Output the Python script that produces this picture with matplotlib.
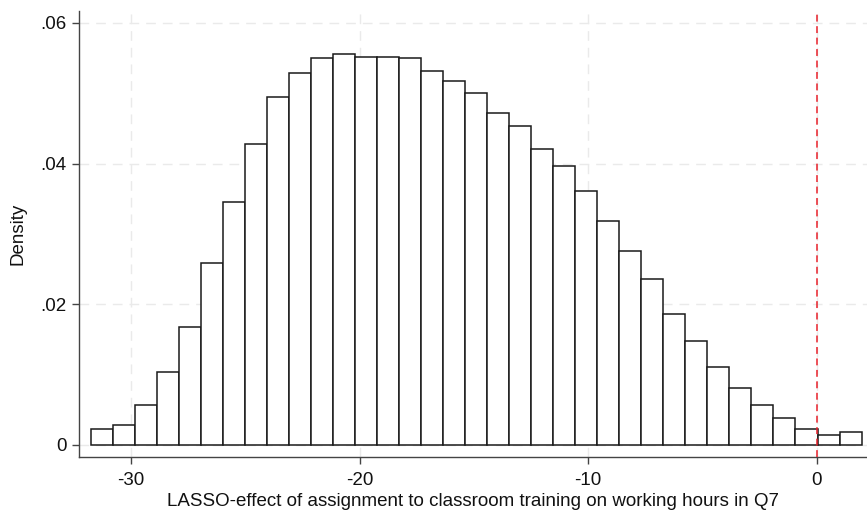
import matplotlib
matplotlib.use('Agg')
import matplotlib.pyplot as plt
from matplotlib.ticker import FuncFormatter
import numpy as np

# Histogram of LASSO-effect estimates (density per bin)
bin_left = -31.74
bin_width = 0.9626
density = [0.00219, 0.00276, 0.00569, 0.0103, 0.0167, 0.02586, 0.0345, 0.0428,
           0.0495, 0.0529, 0.0550, 0.0556, 0.0551, 0.0552, 0.0550, 0.0531,
           0.0518, 0.0501, 0.0472, 0.0453, 0.0420, 0.0396, 0.0361, 0.0318,
           0.0275, 0.0236, 0.0186, 0.0147, 0.0111, 0.0081, 0.0056, 0.00384,
           0.00228, 0.00142, 0.00185]
x_ticks = [-30, -20, -10, 0]
y_ticks = [0, 0.02, 0.04, 0.06]
ref_line = 0

plt.rcParams['font.family'] = ['Liberation Sans', 'DejaVu Sans']

fig = plt.figure(figsize=(8.67, 5.14), dpi=100)
ax = fig.add_axes([0.0911, 0.1109, 0.9089, 0.8677])

edges = bin_left + bin_width * np.arange(len(density))
ax.bar(edges, density, width=bin_width, align='edge', color='white',
       edgecolor='#1a1a1a', linewidth=1.1, zorder=2)

# red reference line at zero
ax.axvline(ref_line, color='#e8202a', linestyle=(0, (4.5, 3)), linewidth=1.1, zorder=3)

ax.set_xlim(-32.27, 2.19)
ax.set_ylim(-0.00175, 0.0617)
ax.set_xticks(x_ticks)
ax.set_yticks(y_ticks)
ax.yaxis.set_major_formatter(FuncFormatter(lambda v, p: '0' if v == 0 else ('%.2f' % v).lstrip('0')))
ax.xaxis.set_major_formatter(FuncFormatter(lambda v, p: '%d' % v))

ax.grid(True, color='#eaeaea', linestyle=(0, (7, 5)), linewidth=1.0, zorder=0)
ax.set_axisbelow(True)

for s in ['top', 'right']:
    ax.spines[s].set_visible(False)
for s in ['left', 'bottom']:
    ax.spines[s].set_color('#444444')
    ax.spines[s].set_linewidth(1.0)
ax.tick_params(axis='both', direction='out', length=5, width=1.0, color='#444444',
               labelsize=13.5, labelcolor='#111111')
ax.tick_params(axis='x', pad=6)
ax.tick_params(axis='y', pad=4)

ax.set_xlabel('LASSO-effect of assignment to classroom training on working hours in Q7',
              fontsize=13.5, color='#111111', labelpad=3)
ax.set_ylabel('Density', fontsize=13.5, color='#111111', labelpad=10)

fig.savefig('out.png', dpi=100)
